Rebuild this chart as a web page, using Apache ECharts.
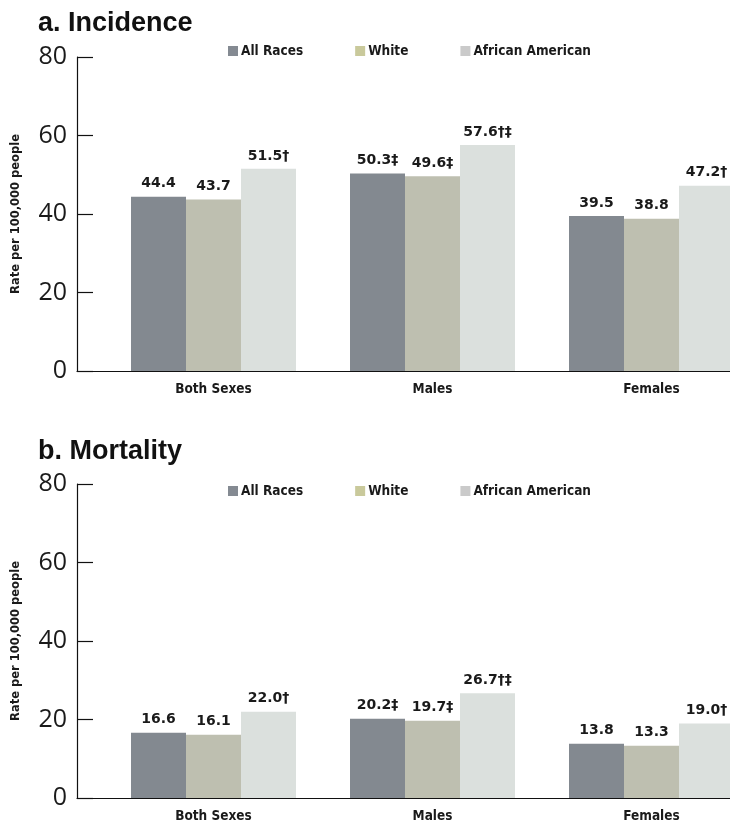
<!DOCTYPE html>
<html>
<head>
<meta charset="utf-8">
<script src="https://cdn.jsdelivr.net/npm/echarts@6/dist/echarts.min.js"></script>
<style>
  html, body { margin: 0; padding: 0; background: #fff; }
  #chart { width: 730px; height: 836px; }
</style>
</head>
<body>
<div id="chart"></div>
<script>
// Groups along the x axis
const categories = ['Both Sexes', 'Males', 'Females'];
const seriesNames = ['All Races', 'White', 'African American'];
const yTicks = [0, 20, 40, 60, 80];

// a. Incidence, rate per 100,000 people
const incidenceAllRaces = [44.4, 50.3, 39.5];
const incidenceWhite = [43.7, 49.6, 38.8];
const incidenceAfricanAmerican = [51.5, 57.6, 47.2];

// b. Mortality, rate per 100,000 people
const mortalityAllRaces = [16.6, 20.2, 13.8];
const mortalityWhite = [16.1, 19.7, 13.3];
const mortalityAfricanAmerican = [22.0, 26.7, 19.0];

// Footnote marks printed after each value
const marksAllRaces = ['', '‡', ''];
const marksWhite = ['', '‡', ''];
const marksAfricanAmerican = ['†', '†‡', '†'];

const barColors = ['#838990', '#bebfb0', '#dbe0dd'];
const legendColors = ['#848a92', '#c9c99b', '#cacaca'];

const labelFont = 'DejaVu Sans';
const narrowFont = 'DejaVu Sans Condensed';

const panels = [
  { title: 'a. Incidence', titleTop: 10, legendTop: 44, top: 57, height: 314,
    values: [incidenceAllRaces, incidenceWhite, incidenceAfricanAmerican] },
  { title: 'b. Mortality', titleTop: 438, legendTop: 484, top: 484, height: 314,
    values: [mortalityAllRaces, mortalityWhite, mortalityAfricanAmerican] }
];
const marks = [marksAllRaces, marksWhite, marksAfricanAmerican];

const option = {
  animation: false,
  backgroundColor: '#ffffff',
  title: [], legend: [], grid: [], xAxis: [], yAxis: [], series: []
};

panels.forEach((p) => {
  option.title.push({
    text: p.title, left: 38, top: p.titleTop, padding: 0,
    textStyle: { fontFamily: 'Liberation Sans', fontWeight: 'bold', fontSize: 27, color: '#111' }
  });
  option.legend.push({
    left: 228, top: p.legendTop, padding: 0, itemWidth: 10, itemHeight: 10, itemGap: 52,
    selectedMode: false, icon: 'rect',
    textStyle: { fontFamily: narrowFont, fontWeight: 'bold', fontSize: 13.5, color: '#1a1a1a', padding: [0, 0, 0, -2] },
    data: seriesNames.map((n, i) => ({ name: n, itemStyle: { color: legendColors[i] } }))
  });

  // grid for the bars; it runs past the right edge so the last group is clipped
  const barGrid = option.grid.length;
  option.grid.push({ left: 104, width: 657, top: p.top, height: p.height, outerBoundsMode: 'none' });
  // grid for the axis frame
  const axisGrid = option.grid.length;
  option.grid.push({ left: 77, right: 0, top: p.top, height: p.height, outerBoundsMode: 'none' });

  const bx = option.xAxis.length;
  option.xAxis.push({
    type: 'category', gridIndex: barGrid, data: categories,
    axisLine: { show: false }, axisTick: { show: false },
    axisLabel: { margin: 11, fontFamily: narrowFont, fontWeight: 'bold', fontSize: 13.5, color: '#1a1a1a' }
  });
  option.xAxis.push({
    type: 'value', gridIndex: axisGrid, min: 0, max: 1,
    axisLine: { show: true, lineStyle: { color: '#111', width: 1.2 } },
    axisTick: { show: false }, axisLabel: { show: false }, splitLine: { show: false }
  });

  const by = option.yAxis.length;
  option.yAxis.push({
    type: 'value', gridIndex: barGrid, min: 0, max: 80, interval: 20, show: false
  });
  option.yAxis.push({
    type: 'value', gridIndex: axisGrid, min: yTicks[0], max: yTicks[yTicks.length - 1], interval: 20,
    name: 'Rate per 100,000 people', nameLocation: 'middle', nameGap: 55,
    nameTextStyle: { fontFamily: labelFont, fontWeight: 'bold', fontSize: 11.5, color: '#1a1a1a' },
    axisLine: { show: true, lineStyle: { color: '#111', width: 1.2 } },
    axisTick: { show: true, inside: true, length: 16, lineStyle: { color: '#111', width: 1.2 } },
    axisLabel: { margin: 10, fontFamily: 'Open Sans', fontSize: 25, color: '#1a1a1a' },
    splitLine: { show: false }
  });

  seriesNames.forEach((name, si) => {
    option.series.push({
      type: 'bar', name: name, xAxisIndex: bx, yAxisIndex: by,
      data: p.values[si], barWidth: 55, barGap: '0%',
      itemStyle: { color: barColors[si] },
      label: {
        show: true, position: 'top', distance: 6,
        fontFamily: labelFont, fontWeight: 'bold', fontSize: 14, color: '#1a1a1a',
        formatter: (d) => d.value.toFixed(1) + marks[si][d.dataIndex]
      }
    });
  });
});

const chart = echarts.init(document.getElementById('chart'), null, { renderer: 'canvas' });
chart.setOption(option);
</script>
</body>
</html>
